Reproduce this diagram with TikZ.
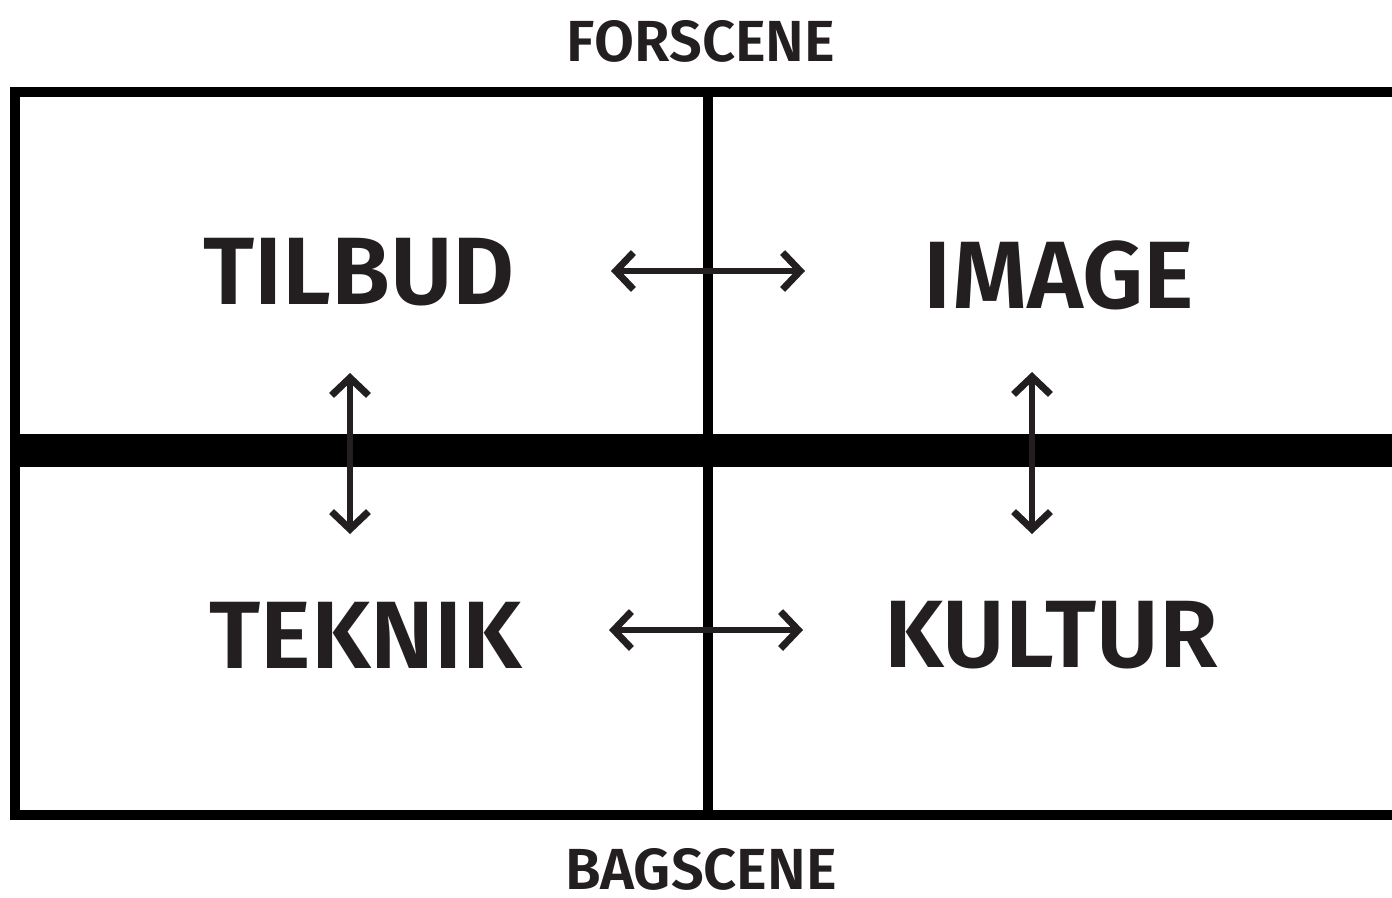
\documentclass[tikz,border=0pt]{standalone}
\usepackage{fontspec}
\setmainfont{Fira Sans SemiBold}
\usepackage{tikz}
\usetikzlibrary{arrows.meta,positioning}

\definecolor{ink}{HTML}{231F20}

\tikzset{
  word/.style={text=ink, font=\fontsize{54.5}{55}\selectfont, inner sep=0pt},
  scene/.style={text=ink, font=\fontsize{33}{33}\selectfont, inner sep=0pt},
  barb/.tip={Straight Barb[length=10pt,width=21pt,line width=0.02cm 1]},
  link/.style={draw=ink, line width=0.12cm, {barb}-{barb}},
  frame/.style={draw=black, line width=0.2cm}
}

\begin{document}
\begin{tikzpicture}[x=0.02cm,y=-0.02cm]
		\clip (0,0) rectangle (1392,897);
		% frame
		\draw[frame] (15,92) rectangle (1440,815);
		\draw[frame] (708,92) -- (708,815);
		\fill[black] (10,434) rectangle (1440,467);
		% words
		\node[scene]	(fors) 	at (701,41) 	{FORSCENE};
		\node[scene]	(bags) 	at (701,869) 	{BAGSCENE};
		\node[word]		(tilbud) at (359,272) 	{TILBUD};
		\node[word]		(image) 	at (1059,275) 	{IMAGE};
		\node[word]		(teknik) at (366,635) 	{TEKNIK};
		\node[word]		(kultur) at (1051,635) 	{KULTUR};
		% arrow ends
		\coordinate (t1) at (611,271);
		\coordinate (t2) at (805,271);
		\coordinate (b1) at (609,630);
		\coordinate (b2) at (803,630);
		\coordinate (l1) at (350,373);
		\coordinate (l2) at (350,534);
		\coordinate (r1) at (1032,372);
		\coordinate (r2) at (1032,534);
		\draw[link] (t1) -- (t2);
		\draw[link] (b1) -- (b2);
		\draw[link] (l1) -- (l2);
		\draw[link] (r1) -- (r2);
	\end{tikzpicture}
\end{document}
